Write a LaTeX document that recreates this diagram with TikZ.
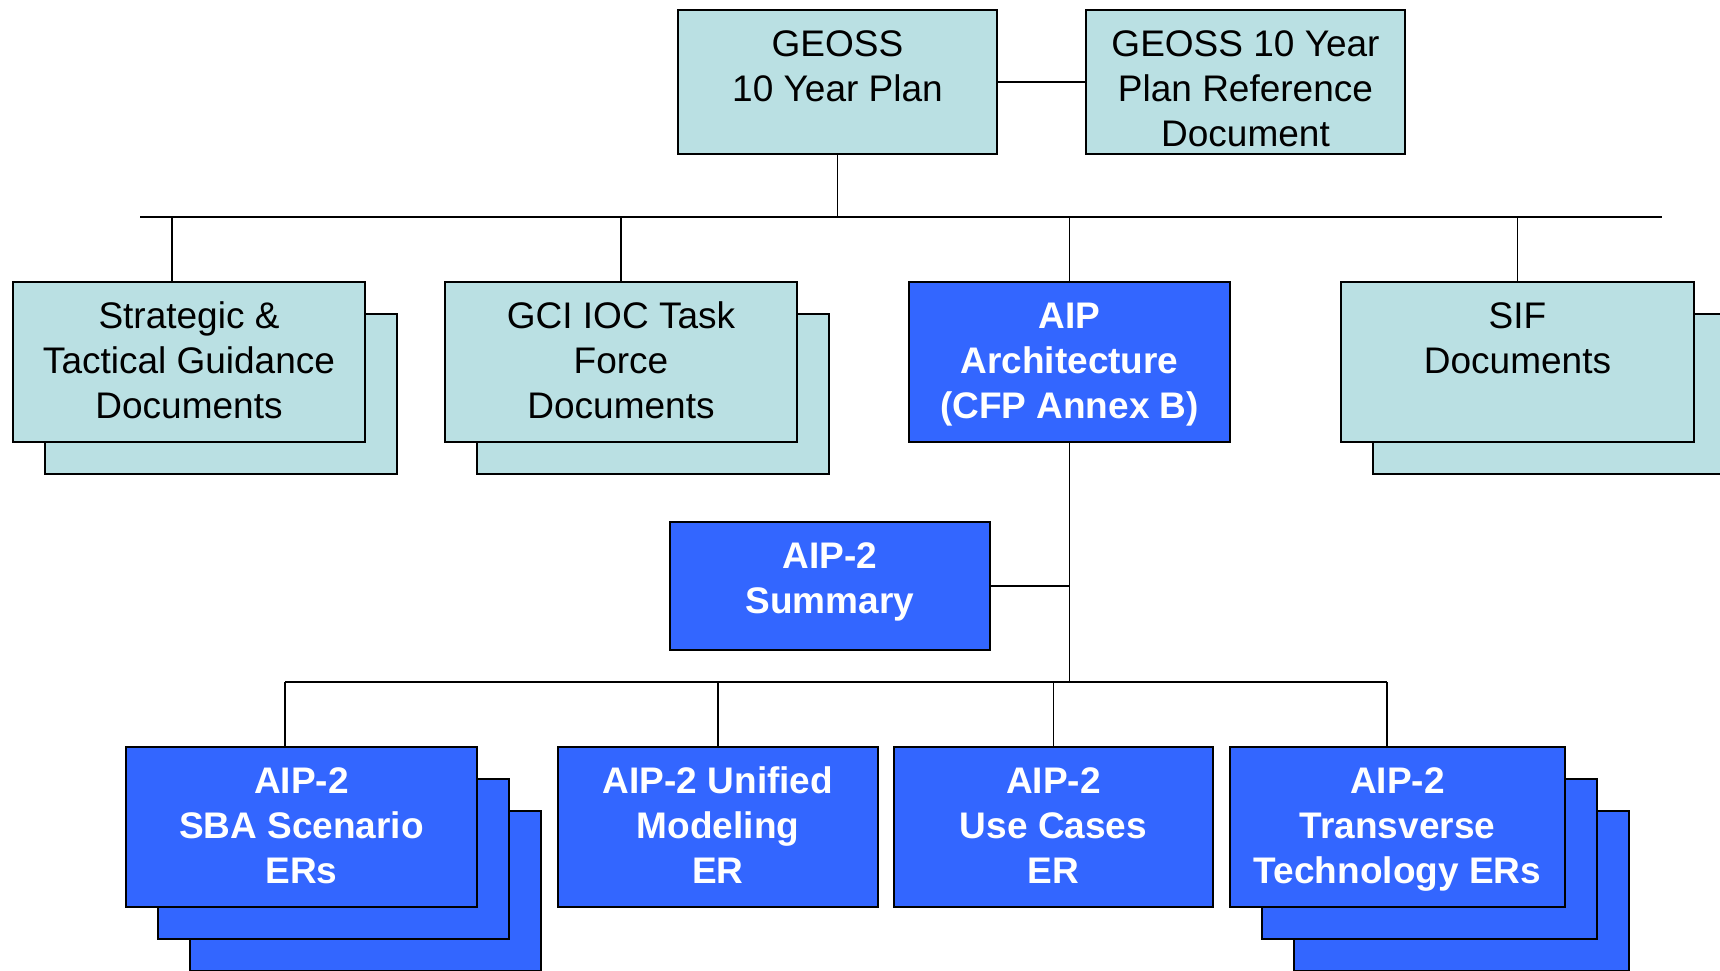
\documentclass[tikz,border=0pt]{standalone}
\usepackage{fontspec}
\setmainfont{Liberation Sans}
\usetikzlibrary{positioning}
\usetikzlibrary{calc}
\usetikzlibrary{shadows}
\definecolor{geoteal}{RGB}{186,224,227}
\definecolor{aipblue}{RGB}{51,102,255}
\newcommand{\boxtext}[3]{\parbox[c][#2][t]{#1}{\centering\vspace*{15pt}\strut#3}}

\begin{document}
\begin{tikzpicture}[x=1pt,y=-1pt,line width=1.5pt,
					  doc node/.style={draw,line width=2pt,fill=geoteal,inner sep=0pt,anchor=north west,font=\fontsize{37}{45}\selectfont},
					  aip node/.style={doc node,fill=aipblue,text=white,font=\fontsize{37}{45}\selectfont\bfseries},
					  doc pile/.style={copy shadow={shadow xshift=32pt,shadow yshift=-32pt}},
					  er pile/.style={copy shadow={shadow xshift=64pt,shadow yshift=-64pt},copy shadow={shadow xshift=32pt,shadow yshift=-32pt}}]
					
					  \useasboundingbox (0,0) rectangle (1720,970);
					
					  \node[doc node] (plan) at (677,9) {\boxtext{319pt}{144pt}{GEOSS\\10 Year Plan}};
					  \node[doc node] (refdoc) at (1085,9) {\boxtext{319pt}{144pt}{GEOSS 10 Year\\Plan Reference\\Document}};
					  \node[doc node,doc pile] (strategic) at (12,281) {\boxtext{352pt}{160pt}{Strategic \&\\Tactical Guidance\\Documents}};
					  \node[doc node,doc pile] (gci) at (444,281) {\boxtext{352pt}{160pt}{GCI IOC Task\\Force\\Documents}};
					  \node[aip node] (arch) at (908,281) {\boxtext{321pt}{160pt}{AIP\\Architecture\\(CFP Annex B)}};
					  \node[doc node,doc pile] (sif) at (1340,281) {\boxtext{353pt}{160pt}{SIF\\Documents}};
					  \node[aip node] (summary) at (669,521) {\boxtext{320pt}{128pt}{AIP-2\\Summary}};
					  \node[aip node,er pile] (sba) at (125,746) {\boxtext{351pt}{160pt}{AIP-2\\SBA Scenario\\ERs}};
					  \node[aip node] (uml) at (557,746) {\boxtext{320pt}{160pt}{AIP-2 Unified\\Modeling\\ER}};
					  \node[aip node] (usecases) at (893,746) {\boxtext{319pt}{160pt}{AIP-2\\Use Cases\\ER}};
					  \node[aip node,er pile] (transverse) at (1229,746) {\boxtext{335pt}{160pt}{AIP-2\\Transverse\\Technology ERs}};
					
					  \coordinate (busL) at (140,217);
					  \coordinate (busR) at (1662,217);
					  \coordinate (erBus) at (1068,682);
					  \coordinate (stratTop) at ($(strategic.north west)+(160,0)$);
					  \coordinate (sbaTop) at ($(sba.north west)+(160,0)$);
					  \coordinate (transTop) at ($(transverse.north west)+(158,0)$);
					
					  \draw (plan.east) -- (refdoc.west);
					  \draw (busL) -- (busR);
					  \draw (plan.south) -- (plan.south |- busL);
					  \draw (stratTop) -- (stratTop |- busL);
					  \draw (gci.north) -- (gci.north |- busL);
					  \draw (arch.north) -- (arch.north |- busL);
					  \draw (sif.north) -- (sif.north |- busL);
					  \draw (arch.south) -- (arch.south |- erBus);
					  \draw (summary.east) -- (summary.east -| arch.south);
					  \draw (sbaTop |- erBus) -- (transTop |- erBus);
					  \draw (sbaTop) -- (sbaTop |- erBus);
					  \draw (uml.north) -- (uml.north |- erBus);
					  \draw (usecases.north) -- (usecases.north |- erBus);
					  \draw (transTop) -- (transTop |- erBus);
					\end{tikzpicture}
\end{document}
